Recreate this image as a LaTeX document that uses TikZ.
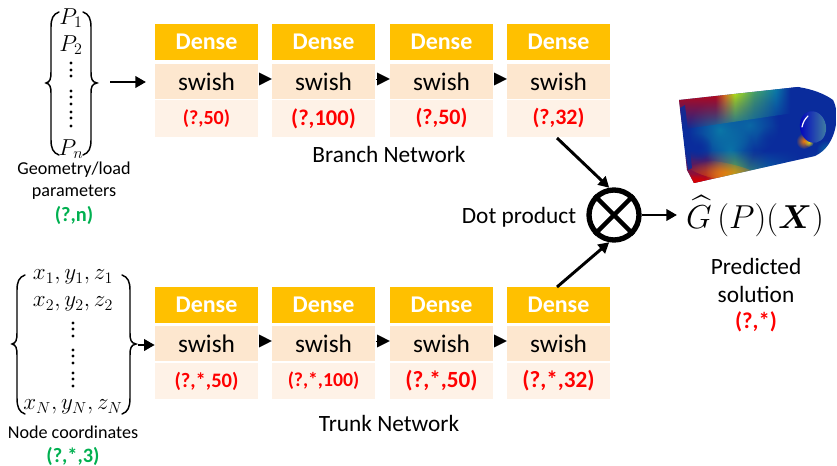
\documentclass[tikz,border=0pt]{standalone}
\usepackage{fontspec}
\usepackage{amsmath}
\setmainfont{Carlito}
\usetikzlibrary{arrows.meta,fadings,calc}
\definecolor{dense}{HTML}{FFC000}
\definecolor{swishc}{HTML}{FDE7CF}
\definecolor{redc}{HTML}{FEF2E7}
\definecolor{gr}{HTML}{00B050}
\definecolor{jb}{HTML}{0A2C9C}
\definecolor{teal2}{HTML}{0A7FA8}
\definecolor{grn2}{HTML}{4FB060}
\pgfdeclarehorizontalshading{rainT}{100bp}{color(0bp)=(red!85!black);color(40bp)=(red!85!black);color(44bp)=(orange);color(48bp)=(yellow!80!green);color(56bp)=(grn2);color(65bp)=(teal2);color(71bp)=(jb);color(100bp)=(jb)}
\pgfdeclarehorizontalshading{rainB}{100bp}{color(0bp)=(red!85!black);color(32bp)=(red!85!black);color(37bp)=(orange);color(42bp)=(yellow!70!green);color(47bp)=(grn2);color(54bp)=(teal2);color(65bp)=(jb);color(73bp)=(teal2);color(100bp)=(teal2)}
\tikzset{
 hd/.style={fill=dense,text=white,font=\fontsize{18}{19}\selectfont\bfseries,minimum width=77.25pt,minimum height=27pt,inner sep=0pt},
 sw/.style={fill=swishc,text=black,font=\fontsize{19}{20}\selectfont,minimum width=77.25pt,minimum height=26.25pt,inner sep=0pt},
 rd/.style={fill=redc,text=red,font=\fontsize{16.5}{17}\selectfont\bfseries,minimum width=77.25pt,minimum height=27.5pt,inner sep=0pt},
 lab/.style={font=\fontsize{13.6}{14}\selectfont,align=center,inner sep=0pt},
 captxt/.style={font=\fontsize{17.5}{18}\selectfont,inner sep=0pt},
 mth/.style={font=\fontsize{18}{19}\selectfont,inner sep=0pt},
 gl/.style={text=gr,font=\fontsize{15.3}{16}\selectfont\bfseries,inner sep=0pt},
 tri/.style={-{Triangle[length=9.5pt,width=9.5pt]},line width=0.1pt},
 arr/.style={-{Triangle[length=8pt,width=8.5pt]},line width=2.2pt},
 vd/.style={fill=black,circle,inner sep=0pt,minimum size=2.4pt},
 brk/.style={line width=1.1pt,line cap=round},
}
\newcommand{\colbox}[6]{%
 \node[hd] (#1h) at (#2,#3) {Dense};
 \node[sw] (#1s) at (#2,#4) {swish};
 \node[rd] (#1r) at (#2,#5) {#6};
}
\newcommand{\blob}[5]{\fill[#4,path fading=blobfade,fill opacity=#5] (#1,#2) circle[radius=#3];}
\tikzfading[name=blobfade,inner color=transparent!0,outer color=transparent!100]
\begin{document}
\begin{tikzpicture}[x=0.75pt,y=-0.75pt]
\useasboundingbox (0,0) rectangle (837,466);
% branch
\colbox{a}{206.5}{42}{81.5}{118.5}{\fontsize{15}{16}\selectfont (?,50)}
\colbox{b}{323.5}{42}{81.5}{118.5}{\fontsize{16.9}{17}\selectfont (?,100)}
\colbox{c}{441.5}{42}{81.5}{118.5}{(?,50)}
\colbox{d}{558.5}{42}{81.5}{118.5}{(?,32)}
% trunk
\colbox{e}{206.5}{304.5}{343.5}{381}{\fontsize{15.4}{16}\selectfont (?,*,50)}
\colbox{f}{323.5}{304.5}{343.5}{381}{\fontsize{14.8}{15}\selectfont (?,*,100)}
\colbox{g}{441.5}{304.5}{343.5}{381}{\fontsize{17.4}{18}\selectfont (?,*,50)}
\colbox{h}{558.5}{304.5}{343.5}{381}{\fontsize{17.4}{18}\selectfont (?,*,32)}
\draw[tri] (as.east) ++(1,-2.5) -- (bs.west|-0,79);
\draw[tri] (bs.east) ++(1,-2.5) -- (cs.west|-0,79);
\draw[tri] (cs.east) ++(1,-2.5) -- (ds.west|-0,79);
\draw[tri] (es.east) ++(1,-2.5) -- (fs.west|-0,341);
\draw[tri] (fs.east) ++(1,-2.5) -- (gs.west|-0,341);
\draw[tri] (gs.east) ++(1,-2.5) -- (hs.west|-0,341);
% P vector
\node[mth] (p1) at (71,18) {$P_1$};
\node[mth] (p2) at (71,45) {$P_2$};
\node[mth] (pn) at (71,149) {$P_n$};
\foreach \y in {63,70,76,91,97,104,112,118,126}
  \node[vd] at (71,\y) {};
\draw[brk] (59,12) .. controls (53,14) and (51,19) .. (51,27) -- (51,72) .. controls (51,79) and (50,82) .. (46,83) .. controls (50,84) and (51,87) .. (51,93) -- (51,140) .. controls (51,148) and (53,153) .. (59,155);
\draw[brk] (83,12) .. controls (89,14) and (91,19) .. (91,27) -- (91,72) .. controls (91,79) and (92,82) .. (97,83) .. controls (92,84) and (91,87) .. (91,93) -- (91,140) .. controls (91,148) and (89,153) .. (83,155);
\coordinate (pout) at (110,82);
\coordinate (pend) at (146,82);
\draw[arr] (pout) -- (pend);
\node[lab] (pl1) at (74,169.5) {Geometry/load};
\node[lab] (pl2) at (74,192) {parameters};
\node[gl] (pl3) at (74,215) {(?,n)};
% x vector
\node[mth] (x1) at (73,277) {$x_1,y_1,z_1$};
\node[mth] (x2) at (73,304) {$x_2,y_2,z_2$};
\node[mth] (xn) at (73,407) {$x_N,y_N,z_N$};
\foreach \y in {323,329,336,350,356,363,373,379,386}
  \node[vd] at (73,\y) {};
\draw[brk] (25,275) .. controls (19,277) and (17,282) .. (17,290) -- (17,333) .. controls (17,340) and (16,343) .. (12,344) .. controls (16,345) and (17,348) .. (17,355) -- (17,398) .. controls (17,407) and (19,412) .. (25,414);
\draw[brk] (122,275) .. controls (128,277) and (130,282) .. (130,290) -- (130,333) .. controls (130,340) and (131,343) .. (136,344) .. controls (131,345) and (130,348) .. (130,355) -- (130,398) .. controls (130,407) and (128,412) .. (122,414);
\coordinate (xout) at (138,345);
\draw[arr] (xout) -- (es.west|-xout);
\node[lab] (xl1) at (73,432.5) {Node coordinates};
\node[gl] (xl2) at (73,456) {(?,*,3)};
% captions
\node[captxt] (bn) at (389,154) {Branch Network};
\node[captxt] (tn) at (389,423) {Trunk Network};
\node[captxt] (dp) at (519,217) {Dot product};
% otimes
\node[circle,draw=black,line width=4pt,minimum size=37.5pt,inner sep=0pt] (ot) at (614,215) {};
\draw[line width=3.2pt] (ot.north west) -- (ot.south east);
\draw[line width=3.2pt] (ot.north east) -- (ot.south west);
\coordinate (bin) at (557,138); \coordinate (tin) at (557,287);
\draw[arr] (bin) -- (ot.100);
\draw[arr] (tin) -- (ot.260);
\node[font=\fontsize{24}{25}\selectfont,inner sep=0pt] (g) at (755,216) {$\widehat{G}\,(P)(\boldsymbol{X})$};
\coordinate (gin) at (677,215);
\draw[arr] (ot.east) -- (gin);
\node[captxt] (ps1) at (756,266) {Predicted};
\node[captxt] (ps2) at (756,294) {solution};
\node[captxt,text=red,font=\fontsize{17}{18}\selectfont\bfseries] (ps3) at (756,322) {(?,*)};
% 3D part
\begin{scope}
\clip (679,100) -- (798,87) .. controls (812,89) and (825,94) .. (833,100) .. controls (840,112) and (838,145) .. (815,156) -- (694,183) -- (687,170) -- cycle;
\fill[jb] (670,80) rectangle (837,190);
\blob{720}{130}{32}{teal2}{.9}
\blob{750}{125}{30}{teal2}{.7}
\blob{730}{150}{24}{teal2}{.8}
\blob{790}{118}{18}{jb}{.9}
% top band
\shade[shading=rainT,shading angle=0,path fading=south] (679,86) -- (800,86) -- (800,112) -- (679,130) -- cycle;
% bottom band
\shade[shading=rainB,shading angle=0,path fading=north] (685,150) -- (830,150) -- (830,162) -- (685,186) -- cycle;
\fill[orange,path fading=blobfade,fill opacity=.7,rotate around={-12:(725,172)}] (725,172) ellipse[x radius=40,y radius=9];
\fill[red!85!black,path fading=blobfade,fill opacity=.9] (696,181) ellipse[x radius=20,y radius=7];
% dark spots
\blob{698}{147}{14}{jb}{1}
\blob{770}{140}{14}{jb}{.8}
% narrow left face
\fill[jb,fill opacity=.85] (680,108) -- (685,105) -- (692,168) -- (688,170) -- cycle;
% lug rim
\blob{826}{150}{10}{teal2}{.7}
\blob{804}{141}{8}{orange}{.95}
\blob{809}{142}{5}{yellow}{.8}
\end{scope}
\fill[blue!75!black,rotate around={12:(813,127)}] (813,127) ellipse[x radius=13,y radius=16];
\fill[cyan!60!black,path fading=west,rotate around={12:(813,127)}] (813,127) ellipse[x radius=13,y radius=16];
\draw[white,line width=0.9pt,line cap=round] (802,127) .. controls (803,122) and (805,119) .. (808,116);
\end{tikzpicture}
\end{document}
